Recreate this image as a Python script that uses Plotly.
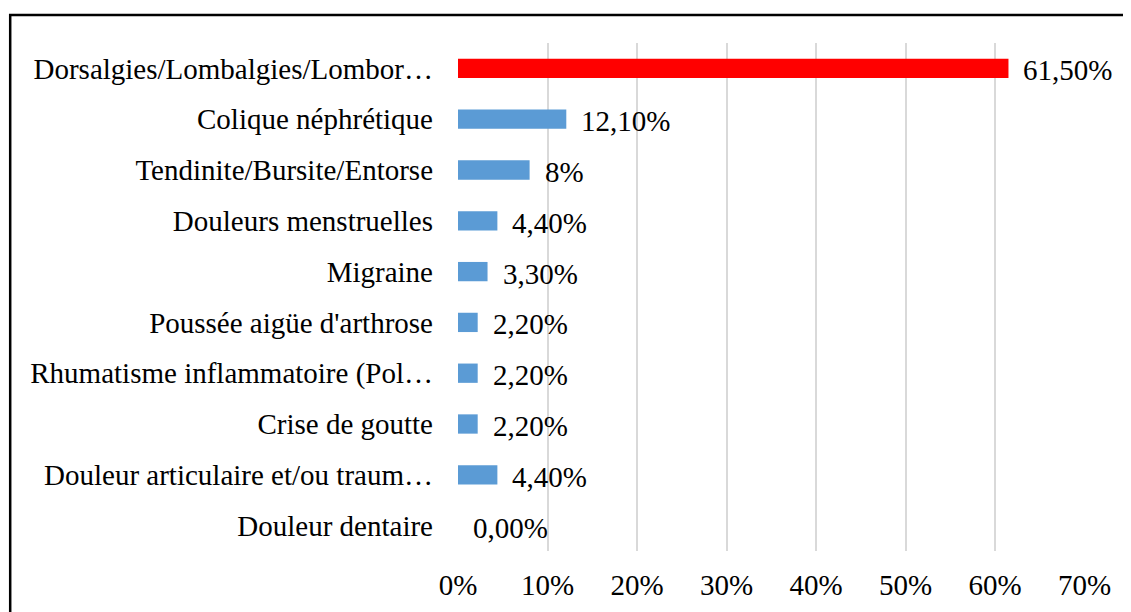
import plotly.graph_objects as go

categories = [
    "Dorsalgies/Lombalgies/Lombor…",
    "Colique néphrétique",
    "Tendinite/Bursite/Entorse",
    "Douleurs menstruelles",
    "Migraine",
    "Poussée aigüe d'arthrose",
    "Rhumatisme inflammatoire (Pol…",
    "Crise de goutte",
    "Douleur articulaire et/ou traum…",
    "Douleur dentaire",
]
values = [61.5, 12.1, 8.0, 4.4, 3.3, 2.2, 2.2, 2.2, 4.4, 0.0]
value_labels = ["61,50%", "12,10%", "8%", "4,40%", "3,30%", "2,20%", "2,20%", "2,20%", "4,40%", "0,00%"]
tick_vals = [0, 10, 20, 30, 40, 50, 60, 70]
tick_text = ["0%", "10%", "20%", "30%", "40%", "50%", "60%", "70%"]

colors = ["#FF0000"] + ["#5B9BD5"] * (len(categories) - 1)

FONT = "Liberation Serif, Times New Roman, serif"
FS = 29

fig = go.Figure(go.Bar(
    x=values, y=categories, orientation="h",
    marker=dict(color=colors, line=dict(width=0)),
    width=0.38,
))

for v, c, t in zip(values, categories, value_labels):
    fig.add_annotation(x=v, y=c, text=t, showarrow=False, xanchor="left",
                       xshift=13, yshift=-2, font=dict(family=FONT, size=FS, color="#000000"))

fig.add_shape(type="rect", xref="paper", yref="paper",
              x0=-0.7142, x1=1.3, y0=-0.3, y1=1.0551,
              line=dict(color="#000000", width=2.5), layer="above")

fig.update_layout(
    width=1131, height=612,
    margin=dict(l=449.5, r=53.5, t=35, b=69),
    paper_bgcolor="white", plot_bgcolor="white",
    showlegend=False,
    font=dict(family=FONT, size=FS, color="#000000"),
)
fig.update_xaxes(range=[0, 70.05], tickvals=tick_vals, ticktext=tick_text,
                 showgrid=True, gridcolor="#D9D9D9", gridwidth=1.5,
                 zeroline=False, showline=False, ticks="",
                 ticklabelstandoff=14,
                 tickfont=dict(family=FONT, size=FS))
fig.update_yaxes(autorange="reversed", showgrid=False, showline=False,
                 ticks="", ticklabelstandoff=24,
                 tickfont=dict(family=FONT, size=FS))

fig.write_html("out.html")
